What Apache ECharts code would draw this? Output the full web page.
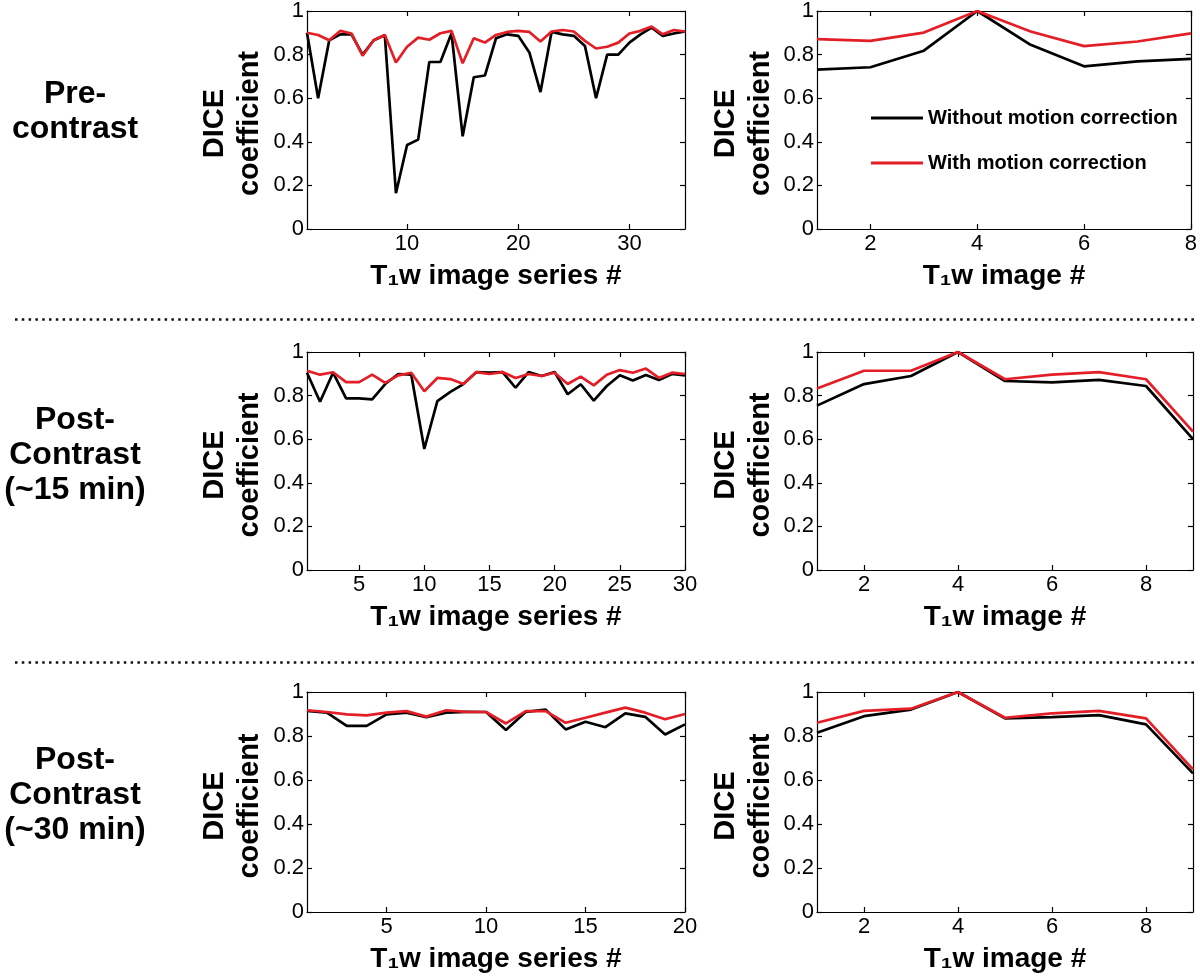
<!DOCTYPE html>
<html>
<head>
<meta charset="utf-8">
<style>
html,body{margin:0;padding:0;background:#fff;}
#chart{width:1200px;height:978px;}
</style>
<script src="https://cdn.jsdelivr.net/npm/echarts@6/dist/echarts.min.js"></script>
</head>
<body>
<div id="chart"></div>
<script>
// ---------- data ----------
const seriesNames = ['Without motion correction', 'With motion correction'];
const rowLabels = ['Pre-\ncontrast', 'Post-\nContrast\n(~15 min)', 'Post-\nContrast\n(~30 min)'];
const leftXTitle = 'T\u2081w image series #';
const rightXTitle = 'T\u2081w image #';
const yTitle = 'DICE\ncoefficient';
const yTicks = [0, 0.2, 0.4, 0.6, 0.8, 1];

// Row 1 (pre-contrast)
const preSeriesX = [1,2,3,4,5,6,7,8,9,10,11,12,13,14,15,16,17,18,19,20,21,22,23,24,25,26,27,28,29,30,31,32,33,34,35];
const preSeriesWithout = [0.90,0.60,0.866,0.893,0.893,0.80,0.866,0.889,0.164,0.385,0.41,0.766,0.766,0.898,0.425,0.696,0.704,0.875,0.893,0.886,0.81,0.628,0.904,0.893,0.886,0.84,0.60,0.80,0.80,0.855,0.893,0.924,0.886,0.897,0.906];
const preSeriesWith = [0.90,0.89,0.866,0.909,0.897,0.795,0.866,0.89,0.764,0.836,0.878,0.868,0.898,0.909,0.76,0.875,0.855,0.89,0.904,0.909,0.904,0.86,0.906,0.913,0.906,0.863,0.828,0.836,0.855,0.897,0.909,0.929,0.893,0.913,0.906];
const preSeriesXTicks = [10, 20, 30];
const preImageX = [1,2,3,4,5,6,7,8];
const preImageWithout = [0.731,0.742,0.818,1.0,0.845,0.746,0.769,0.78];
const preImageWith = [0.871,0.863,0.901,1.0,0.906,0.839,0.86,0.897];
const preImageXTicks = [2, 4, 6, 8];

// Row 2 (post-contrast ~15 min)
const p15SeriesX = [1,2,3,4,5,6,7,8,9,10,11,12,13,14,15,16,17,18,19,20,21,22,23,24,25,26,27,28,29,30];
const p15SeriesWithout = [0.905,0.772,0.905,0.787,0.787,0.783,0.853,0.899,0.896,0.555,0.775,0.817,0.853,0.908,0.905,0.908,0.836,0.908,0.89,0.908,0.806,0.852,0.777,0.844,0.893,0.869,0.895,0.872,0.899,0.893];
const p15SeriesWith = [0.914,0.896,0.907,0.862,0.862,0.896,0.858,0.893,0.905,0.82,0.881,0.876,0.853,0.908,0.899,0.908,0.881,0.899,0.89,0.905,0.853,0.887,0.847,0.896,0.917,0.905,0.924,0.881,0.905,0.899];
const p15SeriesXTicks = [5, 10, 15, 20, 25, 30];
const p15ImageX = [1,2,3,4,5,6,7,8,9];
const p15ImageWithout = [0.754,0.853,0.89,1.0,0.867,0.861,0.872,0.844,0.60];
const p15ImageWith = [0.833,0.914,0.914,1.0,0.875,0.896,0.908,0.875,0.635];
const p15ImageXTicks = [2, 4, 6, 8];

// Row 3 (post-contrast ~30 min)
const p30SeriesX = [1,2,3,4,5,6,7,8,9,10,11,12,13,14,15,16,17,18,19,20];
const p30SeriesWithout = [0.914,0.906,0.846,0.846,0.898,0.906,0.886,0.906,0.91,0.909,0.827,0.91,0.92,0.83,0.865,0.84,0.903,0.887,0.807,0.853];
const p30SeriesWith = [0.917,0.909,0.898,0.894,0.906,0.913,0.888,0.917,0.91,0.909,0.857,0.913,0.913,0.86,0.883,0.906,0.929,0.906,0.876,0.90];
const p30SeriesXTicks = [5, 10, 15, 20];
const p30ImageX = [1,2,3,4,5,6,7,8,9];
const p30ImageWithout = [0.815,0.89,0.92,1.0,0.88,0.886,0.895,0.853,0.63];
const p30ImageWith = [0.86,0.914,0.924,1.0,0.883,0.903,0.914,0.88,0.648];
const p30ImageXTicks = [2, 4, 6, 8];

// ---------- layout ----------
const FONT = '"Liberation Sans", Arial, Helvetica, sans-serif';
const BLACK = '#000000';
const RED = '#e41e26';

const panels = [
  {x: preSeriesX, a: preSeriesWithout, b: preSeriesWith, ticks: preSeriesXTicks, title: leftXTitle, col: 0, row: 0},
  {x: preImageX, a: preImageWithout, b: preImageWith, ticks: preImageXTicks, title: rightXTitle, col: 1, row: 0},
  {x: p15SeriesX, a: p15SeriesWithout, b: p15SeriesWith, ticks: p15SeriesXTicks, title: leftXTitle, col: 0, row: 1},
  {x: p15ImageX, a: p15ImageWithout, b: p15ImageWith, ticks: p15ImageXTicks, title: rightXTitle, col: 1, row: 1},
  {x: p30SeriesX, a: p30SeriesWithout, b: p30SeriesWith, ticks: p30SeriesXTicks, title: leftXTitle, col: 0, row: 2},
  {x: p30ImageX, a: p30ImageWithout, b: p30ImageWith, ticks: p30ImageXTicks, title: rightXTitle, col: 1, row: 2}
];

const colLeft = [307, 817];
const colWidth = [378, 376];
const rowTop = [10, 352, 692];
const rowHeight = [219, 218, 220];

const grid = [], xAxis = [], yAxis = [], series = [], graphic = [];

const lineAxis = {show: true, onZero: false, lineStyle: {color: BLACK, width: 1.2}};

panels.forEach(function (p, i) {
  const left = colLeft[p.col], top = rowTop[p.row], w = colWidth[p.col], h = rowHeight[p.row];
  grid.push({left: left, top: top, width: w, height: h, show: false});
  const xmin = p.x[0], xmax = p.x[p.x.length - 1];
  // bottom x axis
  xAxis.push({
    type: 'value', gridIndex: i, min: xmin, max: xmax, position: 'bottom',
    axisLine: lineAxis,
    axisTick: {show: true, inside: true, length: 5, lineStyle: {color: BLACK, width: 1.2}, customValues: p.ticks},
    axisLabel: {show: true, color: BLACK, fontSize: 22, fontFamily: FONT, margin: 4, customValues: p.ticks},
    splitLine: {show: false},
    name: p.title, nameLocation: 'middle', nameGap: 33,
    nameTextStyle: {color: BLACK, fontSize: 28, fontWeight: 'bold', fontFamily: FONT, verticalAlign: 'top'}
  });
  // top mirror axis
  xAxis.push({
    type: 'value', gridIndex: i, min: xmin, max: xmax, position: 'top',
    axisLine: lineAxis,
    axisTick: {show: true, inside: true, length: 5, lineStyle: {color: BLACK, width: 1.2}, customValues: p.ticks},
    axisLabel: {show: false}, splitLine: {show: false}
  });
  // left y axis
  yAxis.push({
    type: 'value', gridIndex: i, min: 0, max: 1, interval: 0.2, position: 'left',
    axisLine: lineAxis,
    axisTick: {show: true, inside: true, length: 5, lineStyle: {color: BLACK, width: 1.2}},
    axisLabel: {show: true, color: BLACK, fontSize: 22, fontFamily: FONT, margin: 3},
    splitLine: {show: false}
  });
  // right mirror y axis
  yAxis.push({
    type: 'value', gridIndex: i, min: 0, max: 1, interval: 0.2, position: 'right',
    axisLine: lineAxis,
    axisTick: {show: true, inside: true, length: 5, lineStyle: {color: BLACK, width: 1.2}},
    axisLabel: {show: false}, splitLine: {show: false}
  });
  const xi = i * 2, yi = i * 2;
  series.push({
    name: seriesNames[0], type: 'line', xAxisIndex: xi, yAxisIndex: yi,
    data: p.x.map(function (v, k) { return [v, p.a[k]]; }),
    showSymbol: false, symbol: 'none', lineStyle: {color: BLACK, width: 2.7}, itemStyle: {color: BLACK},
    emphasis: {disabled: true}, z: 2
  });
  series.push({
    name: seriesNames[1], type: 'line', xAxisIndex: xi, yAxisIndex: yi,
    data: p.x.map(function (v, k) { return [v, p.b[k]]; }),
    showSymbol: false, symbol: 'none', lineStyle: {color: RED, width: 2.7}, itemStyle: {color: RED},
    emphasis: {disabled: true}, z: 3
  });
  // y-axis title (rotated two-line)
  graphic.push({
    type: 'text', x: left - (p.col === 0 ? 75 : 74), y: top + h / 2 + 4, rotation: Math.PI / 2,
    style: {text: yTitle, fill: BLACK, font: 'bold 29px ' + FONT, align: 'center', verticalAlign: 'middle', lineHeight: 35}
  });
});

// row labels
const rowLabelY = [112, 455, 795];
rowLabels.forEach(function (t, r) {
  graphic.push({
    type: 'text', x: 75, y: rowLabelY[r],
    style: {text: t, fill: BLACK, font: 'bold 32px ' + FONT, align: 'center', verticalAlign: 'middle', lineHeight: 35}
  });
});

// dotted separators
[319.5, 662.5].forEach(function (yy) {
  graphic.push({
    type: 'line', shape: {x1: 15, y1: yy, x2: 1197, y2: yy},
    style: {stroke: '#111', lineWidth: 2.5, lineDash: [2.5, 4.3]}
  });
});

const chart = echarts.init(document.getElementById('chart'), null, {renderer: 'canvas'});
chart.setOption({
  animation: false,
  backgroundColor: '#ffffff',
  grid: grid, xAxis: xAxis, yAxis: yAxis, series: series,
  legend: {
    show: true, orient: 'vertical', left: 871, top: 108, padding: 0,
    itemWidth: 52, itemHeight: 3, itemGap: 25, icon: 'rect',
    selectedMode: false,
    textStyle: {color: BLACK, fontSize: 20, fontWeight: 'bold', fontFamily: FONT},
    data: [
      {name: seriesNames[0], itemStyle: {color: BLACK}},
      {name: seriesNames[1], itemStyle: {color: RED}}
    ]
  },
  graphic: graphic
});
</script>
</body>
</html>
